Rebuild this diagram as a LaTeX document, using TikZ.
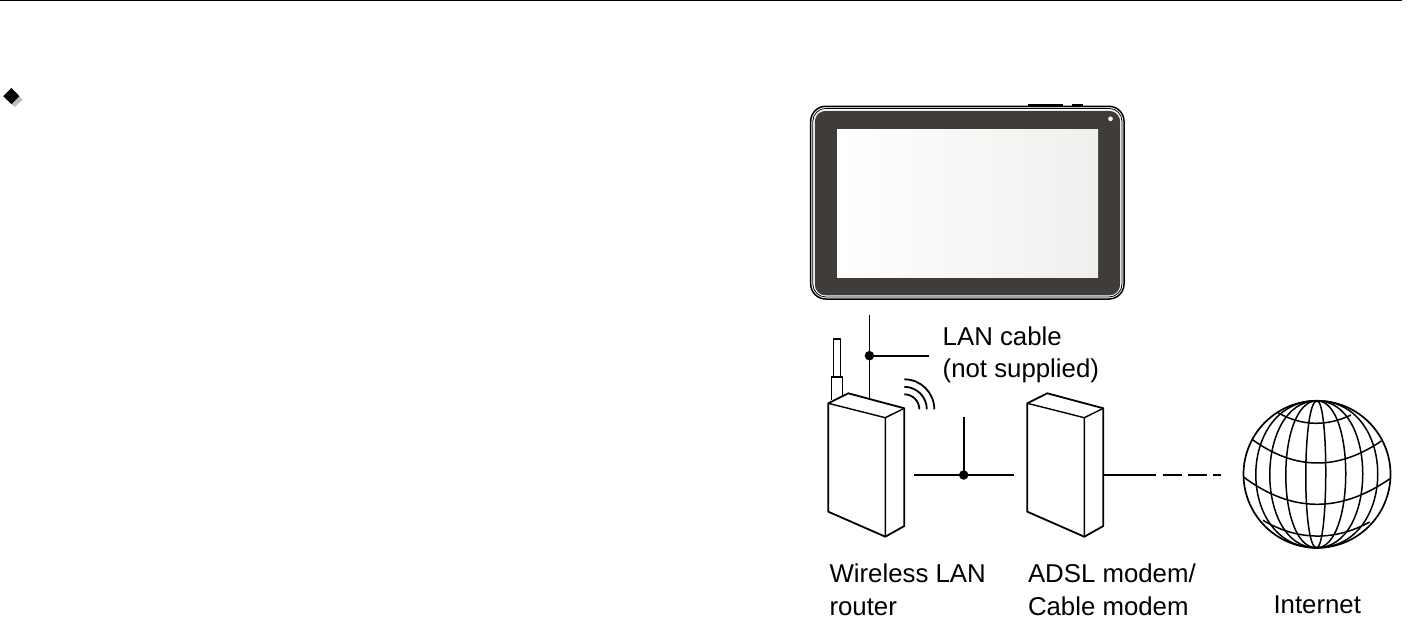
\documentclass[tikz,border=0pt]{standalone}
\usepackage{fontspec}
\setmainfont{Liberation Sans}
\definecolor{bezel}{HTML}{403C3A}
\definecolor{screenr}{HTML}{EFEFED}
\definecolor{shadowgray}{HTML}{BDBDBD}
\tikzset{
  wire/.style={line width=1.8pt,black},
  thinwire/.style={line width=1.5pt,black,line join=round},
  junction/.style={circle,fill=black,draw=none,inner sep=0pt,minimum size=9.5pt},
  lbl/.style={anchor=base west,inner sep=0pt,outer sep=0pt,font=\fontsize{25.8}{30}\selectfont},
  box/.style={line width=1.8pt,black,line join=round,fill=white},
  boxedge/.style={line width=1.4pt,black},
  globeline/.style={line width=1.5pt,black}
}
\usetikzlibrary{calc}
\newcommand{\meridian}[1]{%
  \draw[globeline] (gtop) .. controls ($(gtop)+(1.333*#1,0)$) and ($(gbot)+(1.333*#1,0)$) .. (gbot);}
\newcommand{\wave}[1]{%
  \draw[wire] ($(wc)+(0,-#1)$) .. controls ($(wc)+(0.5523*#1,-#1)$) and ($(wc)+(#1,-0.5523*#1)$) .. ($(wc)+(#1,0)$);}
\newcommand{\boxdevice}[2]{%
  \begin{scope}[shift={(#1,0)}]
    \coordinate (#2fl) at (828.3,403.3);
    \coordinate (#2bk) at (848.3,393.3);
    \coordinate (#2tr) at (904.3,408.3);
    \coordinate (#2fr) at (885.3,417.7);
    \coordinate (#2br) at (885.3,536.7);
    \coordinate (#2bl) at (828.3,511.7);
    \coordinate (#2rb) at (904.3,526);
    \draw[box] (#2fl) -- (#2bk) -- (#2tr) -- (#2rb) -- (#2br) -- (#2bl) -- cycle;
    \draw[boxedge] (#2fl) -- (#2fr) -- (#2tr) (#2fr) -- (#2br);
  \end{scope}}
\begin{document}
\begin{tikzpicture}[x=1pt,y=-1pt]
\useasboundingbox (0,0) rectangle (1412,623);
% header rule
\coordinate (ruleL) at (0,0.7);
\coordinate (ruleR) at (1402,0.7);
\draw[line width=1.6pt] (ruleL) -- (ruleR);
% bullet
\fill[shadowgray] (6.5,99.7) -- (14.7,91.5) -- (22.5,99.7) -- (14.7,107) -- cycle;
\fill[black] (3.2,96.2) -- (11.5,88) -- (19.4,96.2) -- (11.5,104) -- cycle;
% tablet
\fill[black] (1028,104.2) rectangle (1063,106.5);
\fill[black] (1072,104.2) rectangle (1083,106.5);
\draw[line width=1.5pt,rounded corners=15pt,fill=white] (810.7,106.3) rectangle (1124,299);
\draw[line width=0.8pt,rounded corners=13pt] (812.8,108.4) rectangle (1122,297);
\fill[bezel,rounded corners=11pt] (814.8,110.8) rectangle (1120.2,295.4);
\shade[left color=white,right color=screenr,draw=none] (837,129.5) rectangle (1098,277);
\fill[white] (1110.5,118.8) circle (2.3);
% antenna
\draw[thinwire,fill=white] (833.3,377) -- (833.3,339) -- (840.7,339) -- (840.7,377);
\draw[thinwire,fill=white] (831.5,400) -- (831.5,377) -- (842.7,377) -- (842.7,396);
% devices
\boxdevice{0}{r}
\boxdevice{199}{m}
% LAN cable to tablet
\coordinate (tabDown) at (869.4,315);
\coordinate (rTop) at (869.4,398.7);
\node[junction] (j1) at (869.4,355.7) {};
\coordinate (j1end) at (928.7,355.7);
\draw[wire] (tabDown) -- (rTop);
\draw[wire] (j1.center) -- (j1end);
% waves
\coordinate (wc) at (904.3,409.3);
\wave{15}
\wave{22.5}
\wave{30}
% router to modem
\coordinate (rOut) at (914.3,475);
\coordinate (mIn) at (1014,475);
\coordinate (up2) at (963.7,416.7);
\node[junction] (j2) at (963.7,475) {};
\draw[wire] (rOut) -- (mIn);
\draw[wire] (up2) -- (j2.center);
% modem to internet
\coordinate (mOut) at (1104,475);
\coordinate (s1) at (1155.7,475);
\draw[wire] (mOut) -- (s1);
\coordinate (d1a) at (1162.7,475);\coordinate (d1b) at (1181.7,475);
\coordinate (d2a) at (1188,475);\coordinate (d2b) at (1207,475);
\coordinate (d3a) at (1213,475);\coordinate (d3b) at (1220.7,475);
\draw[wire] (d1a) -- (d1b) (d2a) -- (d2b) (d3a) -- (d3b);
% globe
\coordinate (gtop) at (1317,400.8);
\coordinate (gbot) at (1316.5,547.8);
\foreach \a in {-61,-47,-31,-11,9,29,46,61} {\meridian{\a}}
\draw[globeline] (1278,412.7) .. controls (1302,426.4) and (1327,426.4) .. (1351,415);
\draw[globeline] (1252,439.3) .. controls (1295,470.6) and (1338,470.6) .. (1381.3,441);
\draw[globeline] (1243.5,477) .. controls (1292,513.1) and (1340,513.1) .. (1390,478.7);
\draw[globeline] (1263,520.3) .. controls (1298,541) and (1335,541) .. (1369.7,522);
\draw[line width=1.7pt] (1317,474.3) circle (73.5);
% labels
\node[lbl] (lanA) at (942.7,345.7) {LAN cable};
\node[lbl] (lanB) at (942.7,377) {(not supplied)};
\node[lbl] (wlA) at (829.5,582.3) {Wireless LAN};
\node[lbl] (wlB) at (829.5,615) {router};
\node[lbl] (adA) at (1028,582.3) {ADSL modem/};
\node[lbl] (adB) at (1028,615) {Cable modem};
\node[lbl] (net) at (1273.5,613) {Internet};
\end{tikzpicture}
\end{document}
